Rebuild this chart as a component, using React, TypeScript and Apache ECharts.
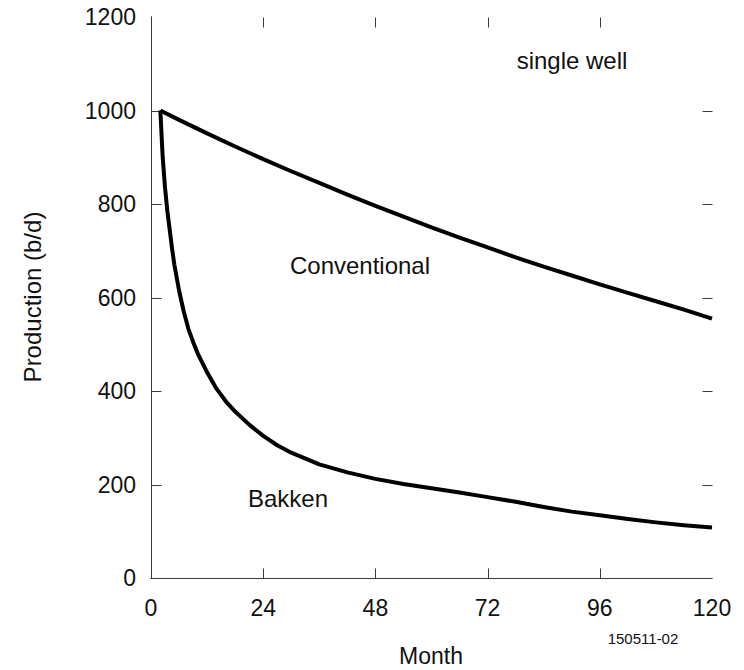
import React, { useEffect, useRef } from "react";
import * as echarts from "echarts";

const xTicks = [0, 24, 48, 72, 96, 120];
const yTicks = [0, 200, 400, 600, 800, 1000, 1200];

const conventionalMonths = [2, 6, 12, 18, 24, 30, 36, 42, 48, 54, 60, 66, 72, 78, 84, 90, 96, 102, 108, 114, 120];
const conventionalValues = [1000, 980, 951, 923, 896, 870, 845, 820, 796, 773, 750, 728, 707, 686, 666, 647, 628, 610, 592, 574, 555];

const bakkenMonths = [2, 2.5, 3, 3.5, 4, 4.5, 5, 6, 7, 8, 9, 10, 12, 14, 16, 18, 21, 24, 27, 30, 36, 42, 48, 54, 60, 66, 72, 78, 84, 90, 96, 102, 108, 114, 120];
const bakkenValues = [1000, 900, 835, 785, 745, 705, 670, 615, 570, 533, 505, 480, 440, 405, 378, 356, 328, 304, 284, 268, 243, 226, 212, 201, 192, 183, 173, 163, 152, 142, 134, 126, 119, 113, 108];

const FONT = "'Liberation Sans', Arial, Helvetica, sans-serif";
const AXIS = "#3a3a3a";

export default function App() {
  const ref = useRef<HTMLDivElement>(null);

  useEffect(() => {
    if (!ref.current) return;
    const chart = echarts.init(ref.current, undefined, { renderer: "svg" });
    const line = () => ({ show: true, lineStyle: { color: AXIS, width: 1 } });
    const zip = (xs: number[], ys: number[]) => xs.map((x, i) => [x, ys[i]]);
    const xMin = xTicks[0];
    const xMax = xTicks[xTicks.length - 1];
    const yMin = yTicks[0];
    const yMax = yTicks[yTicks.length - 1];
    const innerX = xTicks.slice(1, -1);
    const innerY = yTicks.slice(1, -1);
    // [tick value, side]: side 1 left, 2 right, 3 bottom, 4 top
    const tickData = [
      ...innerY.map((v) => [v, 1]),
      ...innerY.map((v) => [v, 2]),
      ...innerX.map((v) => [v, 3]),
      ...innerX.map((v) => [v, 4]),
    ];
    const TL = 10;
    chart.setOption({
      animation: false,
      backgroundColor: "#ffffff",
      textStyle: { fontFamily: FONT },
      grid: { left: 151, top: 17, width: 561, height: 561, containLabel: false },
      xAxis: [
        {
          type: "value",
          position: "bottom",
          min: xMin,
          max: xMax,
          interval: 24,
          axisLine: line(),
          axisTick: { show: false },
          splitLine: { show: false },
          axisLabel: { show: true, margin: 18, fontSize: 23, color: "#111", fontFamily: FONT, formatter: (v: number) => (xTicks.includes(v) ? String(v) : "") },
        },
        {
          type: "value",
          position: "top",
          min: xMin,
          max: xMax,
          interval: 24,
          axisLine: line(),
          axisTick: { show: false },
          splitLine: { show: false },
          axisLabel: { show: false },
        },
      ],
      yAxis: [
        {
          type: "value",
          position: "left",
          min: yMin,
          max: yMax,
          interval: 200,
          axisLine: line(),
          axisTick: { show: false },
          splitLine: { show: false },
          axisLabel: { show: true, margin: 15, fontSize: 23, color: "#111", fontFamily: FONT, formatter: (v: number) => (yTicks.includes(v) ? String(v) : "") },
        },
        {
          type: "value",
          position: "right",
          min: yMin,
          max: yMax,
          interval: 200,
          axisLine: line(),
          axisTick: { show: false },
          splitLine: { show: false },
          axisLabel: { show: false },
        },
      ],
      series: [
        {
          type: "custom",
          name: "ticks",
          data: tickData,
          clip: false,
          silent: true,
          z: 3,
          renderItem: (params: any, api: any) => {
            const v = api.value(0);
            const side = api.value(1);
            const cs = params.coordSys;
            const left = Math.round(cs.x) + 0.5;
            const right = Math.round(cs.x + cs.width) + 0.5;
            const top = Math.round(cs.y) + 0.5;
            const bottom = Math.round(cs.y + cs.height) + 0.5;
            let shape;
            if (side === 1 || side === 2) {
              const y = Math.round(api.coord([xMax, v])[1]) + 0.5;
              shape = side === 1 ? { x1: left, y1: y, x2: left + TL, y2: y } : { x1: right, y1: y, x2: right - TL, y2: y };
            } else {
              const x = Math.round(api.coord([v, yMax])[0]) + 0.5;
              shape = side === 3 ? { x1: x, y1: bottom, x2: x, y2: bottom - TL } : { x1: x, y1: top, x2: x, y2: top + TL };
            }
            return { type: "line", shape, style: { stroke: AXIS, lineWidth: 1 } };
          },
        },
        {
          name: "Conventional",
          type: "line",
          data: zip(conventionalMonths, conventionalValues),
          showSymbol: false,
          symbol: "none",
          smooth: false,
          lineStyle: { color: "#000", width: 4, join: "miter" },
        },
        {
          name: "Bakken",
          type: "line",
          data: zip(bakkenMonths, bakkenValues),
          showSymbol: false,
          symbol: "none",
          smooth: false,
          lineStyle: { color: "#000", width: 4, join: "round" },
        },
      ],
      graphic: [
        { type: "text", x: 572, y: 60, style: { text: "single well", font: `24px ${FONT}`, fill: "#111", align: "center", verticalAlign: "middle" } },
        { type: "text", x: 360, y: 265, style: { text: "Conventional", font: `24px ${FONT}`, fill: "#111", align: "center", verticalAlign: "middle" } },
        { type: "text", x: 288, y: 498, style: { text: "Bakken", font: `24px ${FONT}`, fill: "#111", align: "center", verticalAlign: "middle" } },
        { type: "text", x: 643, y: 638, style: { text: "150511-02", font: `15px ${FONT}`, fill: "#111", align: "center", verticalAlign: "middle" } },
        { type: "text", x: 431, y: 656, style: { text: "Month", font: `23px ${FONT}`, fill: "#111", align: "center", verticalAlign: "middle" } },
        { type: "text", x: 32, y: 297, rotation: Math.PI / 2, style: { text: "Production (b/d)", font: `24px ${FONT}`, fill: "#111", align: "center", verticalAlign: "middle" } },
      ],
    });
    return () => chart.dispose();
  }, []);

  return <div ref={ref} style={{ position: "absolute", left: 0, top: 0, width: 744, height: 670 }} />;
}
